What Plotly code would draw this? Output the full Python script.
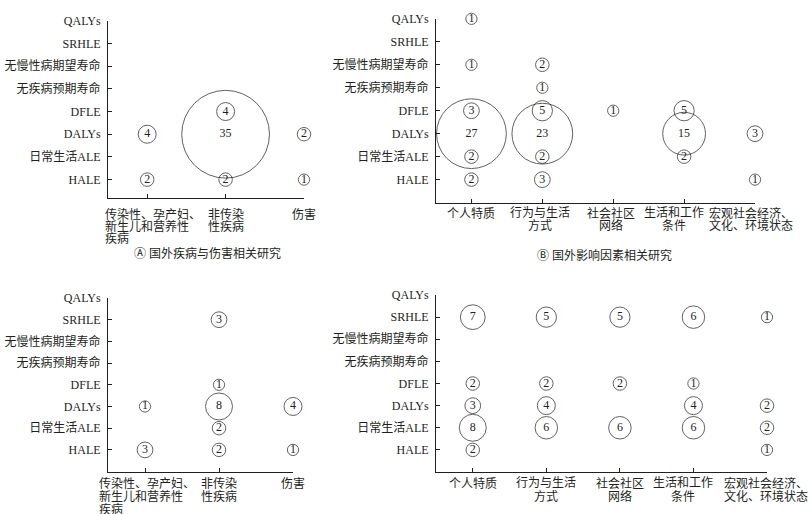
import plotly.graph_objects as go

# ---------------- data ----------------
ROWS = ["HALE", "日常生活ALE", "DALYs", "DFLE", "无疾病预期寿命",
        "无慢性病期望寿命", "SRHLE", "QALYs"]

DISEASE_COLS = [["传染性、孕产妇、", "新生儿和营养性", "疾病"],
                ["非传染", "性疾病"],
                ["伤害"]]
FACTOR_COLS = [["个人特质"],
               ["行为与生活", "方式"],
               ["社会社区", "网络"],
               ["生活和工作", "条件"],
               ["宏观社会经济、", "文化、环境状态"]]

# counts per column, listed in ROWS order (None = no study)
A_COUNTS = [
    [2, None, 4, None, None, None, None, None],
    [2, None, 35, 4, None, None, None, None],
    [1, None, 2, None, None, None, None, None],
]
B_COUNTS = [
    [2, 2, 27, 3, None, 1, None, 1],
    [3, 2, 23, 5, 1, 2, None, None],
    [None, None, None, 1, None, None, None, None],
    [None, 2, 15, 5, None, None, None, None],
    [1, None, 3, None, None, None, None, None],
]
C_COUNTS = [
    [3, None, 1, None, None, None, None, None],
    [2, 2, 8, 1, None, None, 3, None],
    [1, None, 4, None, None, None, None, None],
]
D_COUNTS = [
    [2, 8, 3, 2, None, None, 7, None],
    [None, 6, 4, 2, None, None, 5, None],
    [None, 6, None, 2, None, None, 5, None],
    [None, 6, 4, 1, None, None, 6, None],
    [1, 2, 2, None, None, None, 1, None],
]

TITLE_A = "Ⓐ 国外疾病与伤害相关研究"
TITLE_B = "Ⓑ 国外影响因素相关研究"

# ---------------- layout helpers ----------------
W, H = 812, 514
FONT = "Liberation Serif, 'Noto Sans CJK SC', serif"
INK = "#231f20"


def px_x(p):
    return p / W


def px_y(p):
    return 1 - p / H


def bubble_size(v):
    return 9 + 2.25 * v


panels = [
    dict(counts=A_COUNTS, cols=DISEASE_COLS, ax="", x=(108, 304), top=14, hale=175, bottom=194,
         label_y=[210, 222.5, 235], label_dx=[-44, 0, 0], label_anchor=["left", "center", "center"],
         title=TITLE_A, title_y=250, title_x=207),
    dict(counts=B_COUNTS, cols=FACTOR_COLS, ax="2", x=(436, 755), top=12, hale=175, bottom=199,
         label_y=[209, 222], label_dx=[0, -2, -2, -10, -4], label_anchor=["center"] * 5,
         title=TITLE_B, title_y=252, title_x=604),
    dict(counts=C_COUNTS, cols=DISEASE_COLS, ax="3", x=(108, 293), top=295, hale=449, bottom=471.5,
         label_y=[483, 496, 509], label_dx=[-48, 0, 0], label_anchor=["left", "center", "center"],
         title=None, title_y=None, title_x=None),
    dict(counts=D_COUNTS, cols=FACTOR_COLS, ax="4", x=(436, 767), top=292, hale=449, bottom=471.5,
         label_y=[483, 496.5], label_dx=[0, 0, 0, -10, -1], label_anchor=["center"] * 5,
         title=None, title_y=None, title_x=None),
]

fig = go.Figure()
annotations = []
layout_axes = {}

for p in panels:
    ncol = len(p["cols"])
    xs, ys, sz, tx = [], [], [], []
    for ci, col in enumerate(p["counts"]):
        for ri, v in enumerate(col):
            if v is None:
                continue
            xs.append(ci)
            ys.append(ri)
            sz.append(bubble_size(v))
            tx.append(str(v))
    xname = "x" + p["ax"]
    yname = "y" + p["ax"]
    fig.add_trace(go.Scatter(
        x=xs, y=ys, text=tx, mode="markers+text", textposition="middle center",
        xaxis=xname, yaxis=yname, cliponaxis=False, hoverinfo="skip",
        marker=dict(size=sz, color="rgba(0,0,0,0)", line=dict(color=INK, width=1)),
        textfont=dict(family=FONT, size=12, color=INK), showlegend=False,
    ))
    step = (p["hale"] - p["top"]) / 7.0
    ymin = -(p["bottom"] - p["hale"]) / step
    xl, xr = p["x"]
    xkey = "xaxis" + p["ax"]
    ykey = "yaxis" + p["ax"]
    layout_axes[xkey] = dict(
        domain=[px_x(xl), px_x(xr)], range=[-0.5, ncol - 1], anchor=yname,
        tickvals=list(range(ncol)), ticktext=[""] * ncol, showticklabels=False,
        ticks="inside", ticklen=4, tickcolor=INK, showline=True, linecolor=INK,
        linewidth=1, showgrid=False, zeroline=False, fixedrange=True,
    )
    layout_axes[ykey] = dict(
        domain=[px_y(p["bottom"]), px_y(p["top"])], range=[ymin, 7], anchor=xname,
        tickvals=list(range(len(ROWS))), ticktext=ROWS,
        ticks="inside", ticklen=4, tickcolor=INK, showline=True, linecolor=INK,
        linewidth=1, showgrid=False, zeroline=False, fixedrange=True,
        tickfont=dict(family=FONT, size=12, color=INK), ticklabelstandoff=4,
    )
    # category labels (one annotation per line)
    for ci, lines in enumerate(p["cols"]):
        for li, line in enumerate(lines):
            annotations.append(dict(
                x=ci, xref=xname, y=px_y(p["label_y"][li]), yref="paper",
                text=line, showarrow=False, xanchor=p["label_anchor"][ci], yanchor="middle",
                xshift=p["label_dx"][ci], font=dict(family=FONT, size=12, color=INK),
            ))
    if p["title"]:
        annotations.append(dict(
            x=px_x(p["title_x"]), xref="paper", y=px_y(p["title_y"]), yref="paper",
            text=p["title"], showarrow=False, xanchor="center", yanchor="middle",
            font=dict(family=FONT, size=12, color=INK),
        ))

fig.update_layout(
    width=W, height=H, margin=dict(l=0, r=0, t=0, b=0),
    paper_bgcolor="white", plot_bgcolor="white",
    annotations=annotations, **layout_axes,
)

fig.write_html(
    "out.html",
    config={"displayModeBar": False},
    post_script="document.body.style.margin='0px';document.body.style.overflow='hidden';",
)
